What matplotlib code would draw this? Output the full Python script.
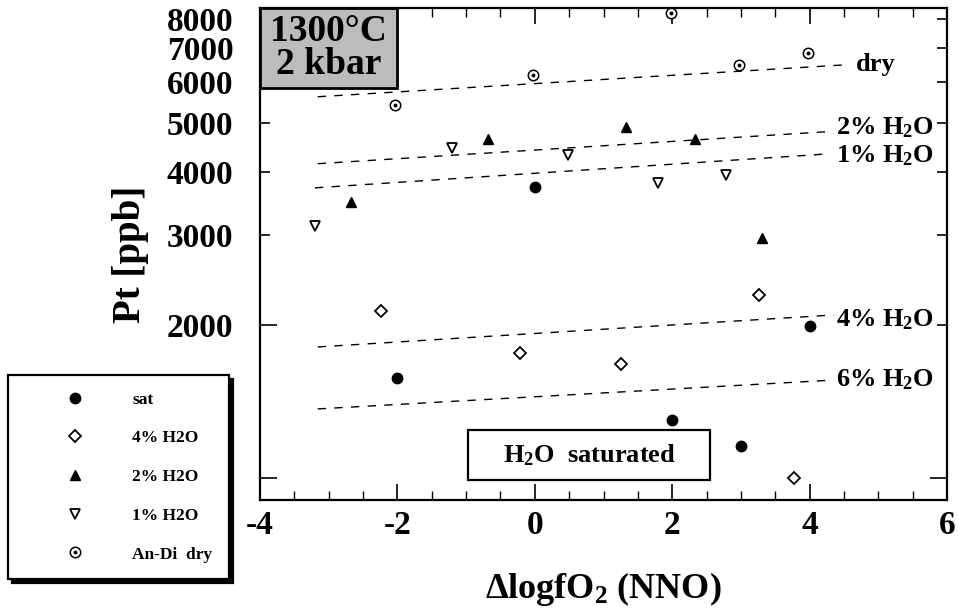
import matplotlib
matplotlib.use("Agg")
import matplotlib.pyplot as plt
from matplotlib.patches import Rectangle
from matplotlib.ticker import FixedLocator, NullLocator, FixedFormatter

plt.rcParams['font.family'] = ['Liberation Serif', 'DejaVu Serif']
plt.rcParams['font.weight'] = 'bold'
plt.rcParams['mathtext.fontset'] = 'custom'
plt.rcParams['mathtext.rm'] = 'Liberation Serif:bold'
plt.rcParams['mathtext.bf'] = 'Liberation Serif:bold'
plt.rcParams['mathtext.it'] = 'Liberation Serif:bold'
plt.rcParams['mathtext.default'] = 'bf'

# ---- data ----
sat_x = [-2.0, 0.0, 2.0, 3.0, 4.0]
sat_y = [1570, 3740, 1300, 1156, 1990]

h4_x = [-2.24, -0.21, 1.26, 3.26, 3.77]
h4_y = [2130, 1762, 1676, 2292, 1000]

h2_x = [-2.67, -0.68, 1.33, 2.33, 3.30]
h2_y = [3490, 4650, 4890, 4650, 2966]

h1_x = [-3.20, -1.20, 0.49, 1.80, 2.79]
h1_y = [3130, 4460, 4320, 3806, 3948]

dry_x = [-2.03, -0.02, 1.98, 2.97, 3.97]
dry_y = [5420, 6190, 8230, 6480, 6860]

# trend lines: (x_start, x_end), (y_start, y_end)
trend_names = ['dry', '2% H$_2$O', '1% H$_2$O', '4% H$_2$O', '6% H$_2$O']
trend_x = [(-3.16, 4.57), (-3.16, 4.28), (-3.20, 4.28), (-3.16, 4.35), (-3.16, 4.35)]
trend_y = [(5620, 6500), (4150, 4800), (3720, 4340), (1810, 2092), (1367, 1558)]
label_x = [4.67, 4.38, 4.38, 4.38, 4.38]
label_y = [6500, 4890, 4300, 2050, 1560]

yticks = [1000, 2000, 3000, 4000, 5000, 6000, 7000, 8000]
ytick_labels = ['', '2000', '3000', '4000', '5000', '6000', '7000', '8000']
xticks = [-4, -2, 0, 2, 4, 6]
xtick_labels = ['-4', '-2', '0', '2', '4', '6']

fig = plt.figure(figsize=(9.59, 6.14), dpi=100)
ax = fig.add_axes([260/959, 1-500/614, 687/959, 492/614])
ax.set_yscale('log')
ax.set_xlim(-4, 6)
ax.set_ylim(905, 8400)

# trend lines
for (x0, x1), (y0, y1) in zip(trend_x, trend_y):
    ax.plot([x0, x1], [y0, y1], color='black', lw=1.0, ls=(0, (6, 6)))
for name, lx, ly in zip(trend_names, label_x, label_y):
    ax.text(lx, ly, name, fontsize=19, fontweight='bold', va='center', ha='left')

ms = 7.5
h_sat, = ax.plot(sat_x, sat_y, 'o', color='black', ms=ms, ls='none')
h_4, = ax.plot(h4_x, h4_y, 'D', mfc='white', mec='black', mew=1.3, ms=6, ls='none')
h_2, = ax.plot(h2_x, h2_y, '^', color='black', ms=ms, ls='none')
h_1, = ax.plot(h1_x, h1_y, 'v', mfc='white', mec='black', mew=1.3, ms=ms, ls='none')
h_d1, = ax.plot(dry_x, dry_y, 'o', mfc='white', mec='black', mew=1.1, ms=7.5, ls='none')
h_d2, = ax.plot(dry_x, dry_y, 'o', color='black', ms=1.8, ls='none')

# ticks
ax.yaxis.set_major_locator(FixedLocator(yticks))
ax.yaxis.set_major_formatter(FixedFormatter(ytick_labels))
ax.yaxis.set_minor_locator(NullLocator())
ax.xaxis.set_major_locator(FixedLocator(xticks))
ax.xaxis.set_major_formatter(FixedFormatter(xtick_labels))
ax.xaxis.set_minor_locator(FixedLocator([v / 2 for v in range(-8, 13)]))
ax.tick_params(axis='x', which='major', direction='in', length=11.5, width=1.2,
               top=True, bottom=True, labelsize=24, pad=7)
ax.tick_params(axis='x', which='minor', direction='in', length=6.5, width=1.0,
               top=True, bottom=True)
ax.tick_params(axis='y', which='major', direction='in', length=7, width=1.2,
               left=True, right=True, labelsize=24, pad=19)
for t in ax.yaxis.get_major_ticks()[:2]:
    t.tick1line.set_markersize(12)
ax.yaxis.get_major_ticks()[0].tick2line.set_markersize(12)
for lab in ax.get_xticklabels() + ax.get_yticklabels():
    lab.set_fontweight('bold')
for s in ax.spines.values():
    s.set_linewidth(1.6)

ax.set_xlabel(r'$\Delta$logfO$_2$ (NNO)', fontsize=26, fontweight='bold', labelpad=21)
ax.set_ylabel('Pt [ppb]', fontsize=28, fontweight='bold', labelpad=13)

# condition box
ax.add_patch(Rectangle((0, 0.837), 0.2, 0.163, transform=ax.transAxes,
                       facecolor='#bcbcbc', edgecolor='black', lw=2, zorder=5, clip_on=False))
ax.text(0.1, 0.919, '1300°C\n2 kbar', transform=ax.transAxes, ha='center', va='center',
        fontsize=27, fontweight='bold', linespacing=0.95, zorder=6)

# saturated box
ax.add_patch(Rectangle((0.303, 0.0407), 0.352, 0.101, transform=ax.transAxes,
                       facecolor='white', edgecolor='black', lw=1.6, zorder=5))
ax.text(0.479, 0.091, 'H$_2$O  saturated', transform=ax.transAxes, ha='center', va='center',
        fontsize=19, fontweight='bold', zorder=6)

leg = fig.legend([h_sat, h_4, h_2, h_1, (h_d1, h_d2)],
                 ['sat', '4% H2O', '2% H2O', '1% H2O', 'An-Di  dry'],
                 loc='upper left', bbox_to_anchor=(8/959, 1-375/614),
                 bbox_transform=fig.transFigure, borderaxespad=0,
                 prop={'family': 'Liberation Serif', 'weight': 'bold', 'size': 12.5},
                 handlelength=5.8, handletextpad=0.4, labelspacing=1.3, borderpad=0.95,
                 fancybox=False, edgecolor='black', framealpha=1,
                 shadow={'ox': 3, 'oy': -3, 'facecolor': 'black', 'edgecolor': 'black', 'alpha': 1})
leg.get_frame().set_linewidth(1.6)

fig.savefig('out.png', dpi=100)
